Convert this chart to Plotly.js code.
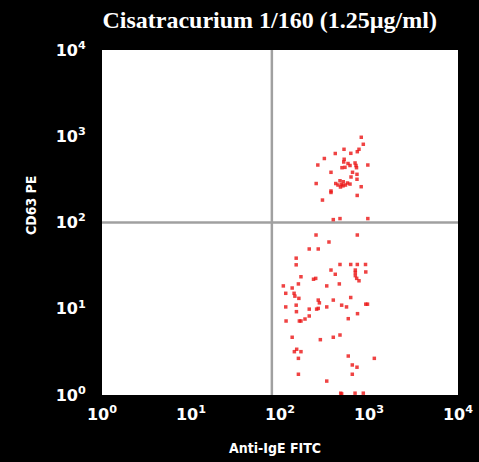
<!DOCTYPE html>
<html>
<head>
<meta charset="utf-8">
<script src="https://cdn.plot.ly/plotly-3.0.1.min.js"></script>
<style>html,body{margin:0;padding:0;background:#000;}#chart{width:479px;height:462px;}</style>
</head>
<body>
<div id="chart"></div>
<script>
// Anti-IgE FITC (x) and CD63 PE (y) event values
const antiIgE = [
  819, 863, 524, 772, 739, 418, 625, 315, 526, 520, 266, 581, 612, 697, 714, 970,
  497, 537, 724, 374, 653, 733, 628, 733, 255, 423, 472, 514, 493, 478, 544, 573,
  612, 510, 448, 817, 374, 374, 737, 300, 397, 472, 970,
  254, 739, 355, 213, 269, 152, 152, 472, 623, 739, 702, 702, 702, 727, 772, 914,
  920, 374, 418, 172, 238, 252, 335, 464, 161, 109, 137, 116, 144, 147, 163, 269,
  277, 397, 623, 116, 152, 213, 258, 269, 335, 493, 559, 920, 962, 153, 743, 117,
  165, 172, 191, 213, 585, 137, 284, 397, 472, 145, 154, 172, 585, 161, 1148, 649,
  733, 161, 649, 335, 481, 493, 697, 863
];
const cd63 = [
  973, 807, 706, 706, 662, 631, 634, 552, 541, 503, 464, 483, 458, 490, 458, 464,
  432, 436, 432, 382, 382, 362, 337, 317, 283, 283, 305, 297, 276, 258, 272, 287,
  279, 266, 272, 260, 232, 223, 206, 182, 108, 111, 111,
  71.6, 71.6, 59.4, 49.3, 49.3, 38.6, 32.3, 32.6, 32.6, 32.6, 28.1, 26.3, 24.2, 22.5, 21.1, 32.6,
  26.7, 28.1, 25.1, 23.5, 22.0, 22.5, 18.4, 19.4, 19.4, 18.4, 17.4, 15.1, 15.1, 14.0, 13.2, 12.6,
  11.7, 12.6, 13.5, 10.5, 11.0, 9.9, 9.9, 10.1, 10.5, 11.0, 10.5, 11.3, 11.3, 9.25, 8.77, 7.21,
  7.21, 7.21, 7.60, 8.24, 7.67, 4.67, 4.38, 4.67, 4.96, 3.18, 3.39, 3.18, 2.83, 2.66, 2.66, 2.23,
  2.10, 1.74, 1.74, 1.45, 1.05, 1.03, 1.05, 1.05
];
// quadrant gate positions
const gateX = 81;
const gateY = 100;
// axis ticks
const tickValues = [1, 10, 100, 1000, 10000];
const tickLabels = ["10<sup>0</sup>", "10<sup>1</sup>", "10<sup>2</sup>", "10<sup>3</sup>", "10<sup>4</sup>"];
const axisMin = 1, axisMax = 10000;

const tickFont = {family: "DejaVu Sans", size: 16, color: "#ffffff", weight: "bold"};

const traces = [
  {x: [gateX, gateX], y: [axisMin, axisMax], mode: "lines", line: {color: "#a0a0a0", width: 2.5}, hoverinfo: "skip", showlegend: false},
  {x: [axisMin, axisMax], y: [gateY, gateY], mode: "lines", line: {color: "#a0a0a0", width: 2.5}, hoverinfo: "skip", showlegend: false},
  {x: antiIgE, y: cd63, mode: "markers", type: "scatter",
   marker: {symbol: "square", size: 3.5, color: "rgba(235,20,20,0.8)", line: {width: 0}}, showlegend: false}
];

const layout = {
  width: 479, height: 462,
  paper_bgcolor: "#000000", plot_bgcolor: "#ffffff",
  margin: {l: 102, r: 21, t: 50, b: 67},
  showlegend: false,
  title: {text: "Cisatracurium 1/160 (1.25µg/ml)", x: 0.563, xanchor: "center", y: 0.957, yanchor: "middle",
          font: {family: "Liberation Serif", size: 24, color: "#ffffff", weight: "bold"}},
  xaxis: {type: "log", range: [Math.log10(axisMin), Math.log10(axisMax)], showgrid: false, zeroline: false,
          tickmode: "array", tickvals: tickValues, ticktext: tickLabels, tickfont: tickFont,
          ticks: "outside", ticklen: 5, tickcolor: "#000000", showline: false},
  yaxis: {type: "log", range: [Math.log10(axisMin), Math.log10(axisMax)], showgrid: false, zeroline: false,
          tickmode: "array", tickvals: tickValues, ticktext: tickLabels, tickfont: tickFont,
          ticks: "outside", ticklen: 12, tickcolor: "#000000", showline: false},
  annotations: [
    {text: "Anti-IgE FITC", xref: "paper", yref: "paper", x: 0.485, y: -0.155, xanchor: "center", yanchor: "middle",
     showarrow: false, font: {family: "DejaVu Sans Condensed", size: 14, color: "#ffffff", weight: "bold"}},
    {text: "CD63 PE", xref: "paper", yref: "paper", x: -0.2, y: 0.55, xanchor: "center", yanchor: "middle",
     textangle: -90, showarrow: false, font: {family: "DejaVu Sans Condensed", size: 14, color: "#ffffff", weight: "bold"}}
  ]
};

Plotly.newPlot("chart", traces, layout, {displayModeBar: false, staticPlot: true});
</script>
</body>
</html>
